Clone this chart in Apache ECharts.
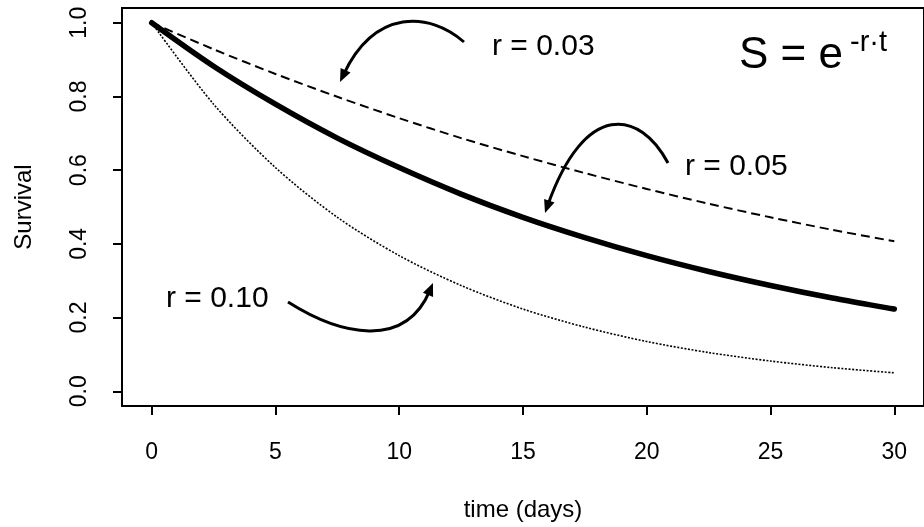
<!DOCTYPE html>
<html>
<head>
<meta charset="utf-8">
<script src="https://cdn.jsdelivr.net/npm/echarts@6/dist/echarts.min.js"></script>
<style>
  html, body { margin: 0; padding: 0; background: #fff; }
  #main { width: 924px; height: 527px; }
</style>
</head>
<body>
<div id="main"></div>
<script>
// time (days) and survival
var days = [0, 2.5, 5, 7.5, 10, 12.5, 15, 17.5, 20, 22.5, 25, 27.5, 30];
var surv003 = [1.0, 0.928, 0.861, 0.799, 0.741, 0.687, 0.638, 0.592, 0.549, 0.509, 0.472, 0.438, 0.407];
var surv005 = [1.0, 0.882, 0.779, 0.687, 0.607, 0.535, 0.472, 0.417, 0.368, 0.325, 0.287, 0.253, 0.223];
var surv010 = [1.0, 0.779, 0.607, 0.472, 0.368, 0.287, 0.223, 0.174, 0.135, 0.105, 0.082, 0.064, 0.050];
var xTicks = [0, 5, 10, 15, 20, 25, 30];
var yTicks = [0, 0.2, 0.4, 0.6, 0.8, 1.0];

function pairs(ys) {
  return days.map(function (d, i) { return [d, ys[i]]; });
}

var font = "Liberation Sans, Arial, sans-serif";
var chart = echarts.init(document.getElementById("main"));

// curved annotation arrows (pixel positions)
function arrow(p0, c1, c2, p3) {
  var dx = p3[0] - c2[0], dy = p3[1] - c2[1];
  var len = Math.sqrt(dx * dx + dy * dy);
  dx /= len; dy /= len;
  var L = 13, W = 5.5;
  var bx = p3[0] - dx * L, by = p3[1] - dy * L;
  return [
    {
      type: "bezierCurve",
      shape: { x1: p0[0], y1: p0[1], cpx1: c1[0], cpy1: c1[1], cpx2: c2[0], cpy2: c2[1],
               x2: p3[0] - dx * 8, y2: p3[1] - dy * 8 },
      style: { stroke: "#000", lineWidth: 3, fill: null }
    },
    {
      type: "polygon",
      shape: { points: [p3, [bx - dy * W, by + dx * W], [bx + dy * W, by - dx * W]] },
      style: { fill: "#000" }
    }
  ];
}

var graphics = []
  .concat(arrow([464, 42], [430, 12], [375, 8], [340, 82]))
  .concat(arrow([668, 163], [640, 110], [585, 100], [545, 213]))
  .concat(arrow([288, 302], [340, 335], [405, 350], [433, 283]));

graphics.push(
  { type: "text", left: 492, top: 32, style: { text: "r = 0.03", font: "30px " + font, fill: "#000" } },
  { type: "text", left: 685, top: 152, style: { text: "r = 0.05", font: "30px " + font, fill: "#000" } },
  { type: "text", left: 166, top: 284, style: { text: "r = 0.10", font: "30px " + font, fill: "#000" } },
  { type: "text", left: 739, top: 34, style: { text: "S = e", font: "44px " + font, fill: "#000" } },
  { type: "text", left: 850, top: 28, style: { text: "-r\u00b7t", font: "29px " + font, fill: "#000" } }
);

var option = {
  backgroundColor: "#fff",
  animation: false,
  grid: {
    left: 122, top: 8, width: 811, height: 398,
    show: true, borderColor: "#000", borderWidth: 2, backgroundColor: "transparent"
  },
  xAxis: {
    type: "value", min: -1.2, max: 31.2,
    name: "time (days)", nameLocation: "middle", nameGap: 92,
    nameTextStyle: { fontFamily: font, fontSize: 24, color: "#000" },
    axisLine: { show: false, onZero: false },
    splitLine: { show: false },
    axisTick: { show: true, customValues: xTicks, length: 9, lineStyle: { color: "#000", width: 2 } },
    axisLabel: { customValues: xTicks, margin: 35, fontFamily: font, fontSize: 23, color: "#000" }
  },
  yAxis: {
    type: "value", min: -0.04, max: 1.04,
    name: "Survival", nameLocation: "middle", nameGap: 86, nameRotate: 90,
    nameTextStyle: { fontFamily: font, fontSize: 24, color: "#000" },
    axisLine: { show: false, onZero: false },
    splitLine: { show: false },
    axisTick: { show: true, customValues: yTicks, length: 9, lineStyle: { color: "#000", width: 2 } },
    axisLabel: {
      customValues: yTicks, rotate: 90, margin: 31, fontFamily: font, fontSize: 23, color: "#000",
      formatter: function (v) { return v.toFixed(1); }
    }
  },
  series: [
    {
      name: "r = 0.03", type: "line", data: pairs(surv003), smooth: 0.3, symbol: "none",
      lineStyle: { color: "#000", width: 2, type: [9, 5] }
    },
    {
      name: "r = 0.05", type: "line", data: pairs(surv005), smooth: 0.3, symbol: "none",
      lineStyle: { color: "#000", width: 5.5, cap: "round" }
    },
    {
      name: "r = 0.10", type: "line", data: pairs(surv010), smooth: 0.3, symbol: "none",
      lineStyle: { color: "#000", width: 1.6, type: [2, 1.6] }
    }
  ],
  graphic: graphics
};

chart.setOption(option);
</script>
</body>
</html>
